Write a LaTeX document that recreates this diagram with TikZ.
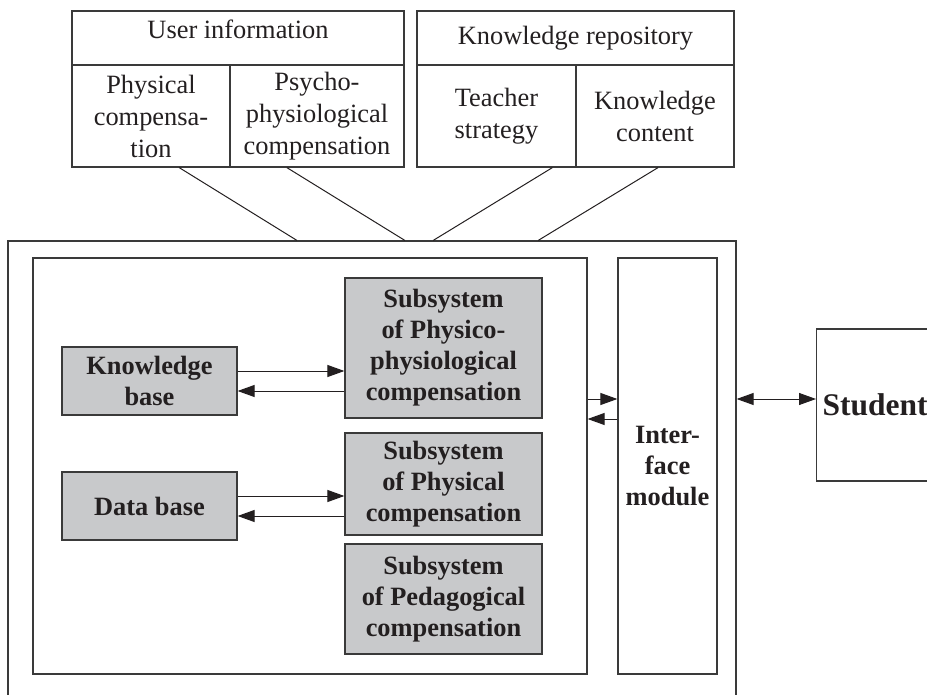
\documentclass[tikz,border=0pt]{standalone}
\usepackage{fontspec}
\setmainfont{Liberation Serif}
\usetikzlibrary{arrows.meta,calc}
\definecolor{boxfill}{HTML}{C8C9CB}
\definecolor{linecol}{HTML}{3A3A3A}
\definecolor{txt}{HTML}{231F20}
\begin{document}
\begin{tikzpicture}[x=1pt,y=-1pt,
  every node/.style={text=txt},
  cell/.style={draw=linecol, line width=1.2pt, inner sep=0pt, align=center,
    font=\fontsize{26.4}{32}\selectfont},
  gbox/.style={draw=linecol, line width=1.2pt, fill=boxfill, inner sep=0pt, align=center,
    font=\fontsize{26.4}{31}\selectfont\bfseries},
  wbox/.style={gbox, fill=white},
  frame/.style={draw=linecol, line width=1.2pt, inner sep=0pt},
  link/.style={draw=txt, line width=1pt},
  arr/.style={draw=txt, line width=1pt, -{Triangle[length=17pt,width=12pt]}},
  darr/.style={draw=txt, line width=1pt, {Triangle[length=17pt,width=12pt]}-{Triangle[length=17pt,width=12pt]}}
]
\useasboundingbox (0,0) rectangle (927,695);
\clip (0,0) rectangle (927,695);

% top: user information
\node[cell, minimum width=332, minimum height=54, text depth=18pt] (uinfo) at (238,38) {User information};
\node[cell, minimum width=158, minimum height=102] (phys) at (151,116) {Physical\\compensa-\\tion};
\node[cell, minimum width=174, minimum height=102] (psy) at (317,116) {Psycho-\\physiological\\compensation};

% top: knowledge repository
\node[cell, minimum width=317, minimum height=54] (krepo) at (575.5,38) {Knowledge repository};
\node[cell, minimum width=159, minimum height=102] (teach) at (496.5,116) {Teacher\\strategy};
\node[cell, minimum width=158, minimum height=102] (kcont) at (655,116) {Knowledge\\content};

% main frames
\node[frame, minimum width=728, minimum height=479] (outer) at (372,480.5) {};
\node[frame, minimum width=554, minimum height=416] (inner) at (310,466) {};
\node[wbox, minimum width=99, minimum height=416] (iface) at (667.5,466) {Inter-\\face\\module};

% inner boxes
\node[gbox, minimum width=175, minimum height=68] (kb) at (149.5,381) {Knowledge\\base};
\node[gbox, minimum width=175, minimum height=68] (db) at (149.5,506) {Data base};
\node[gbox, minimum width=197, minimum height=140] (sub1) at (443.5,348) {Subsystem\\of Physico-\\physiological\\compensation};
\node[gbox, minimum width=197, minimum height=102] (sub2) at (443.5,484) {Subsystem\\of Physical\\compensation};
\node[gbox, minimum width=197, minimum height=110] (sub3) at (443.5,599) {Subsystem\\of Pedagogical\\compensation};

% student
\node[draw=linecol, line width=1.2pt, inner ysep=0pt, inner xsep=6pt, minimum height=152,
  anchor=west, font=\fontsize{31.5}{36}\selectfont\bfseries] (student) at (816,405) {Student};

% links from top boxes
\draw[link] ($(phys.south west)!0.677!(phys.south east)$) -- ($(outer.north west)!0.397!(outer.north east)$);
\draw[link] ($(psy.south west)!0.328!(psy.south east)$) -- ($(outer.north west)!0.545!(outer.north east)$);
\draw[link] ($(teach.south west)!0.849!(teach.south east)$) -- ($(outer.north west)!0.584!(outer.north east)$);
\draw[link] ($(kcont.south west)!0.519!(kcont.south east)$) -- ($(outer.north west)!0.728!(outer.north east)$);

% arrows
\draw[arr] ($(kb.east)+(0,-10)$) -- ($(kb.east -| sub1.west)+(0,-10)$);
\draw[arr] ($(kb.east -| sub1.west)+(0,10)$) -- ($(kb.east)+(0,10)$);
\draw[arr] ($(db.east)+(0,-10)$) -- ($(db.east -| sub2.west)+(0,-10)$);
\draw[arr] ($(db.east -| sub2.west)+(0,10)$) -- ($(db.east)+(0,10)$);
\draw[arr] ($(inner.east)+(0,-67)$) -- ($(inner.east -| iface.west)+(0,-67)$);
\draw[arr] ($(inner.east -| iface.west)+(0,-47)$) -- ($(inner.east)+(0,-47)$);
\draw[darr] ($(student.west -| outer.east)+(0,-6)$) -- ($(student.west)+(0,-6)$);
\end{tikzpicture}
\end{document}
